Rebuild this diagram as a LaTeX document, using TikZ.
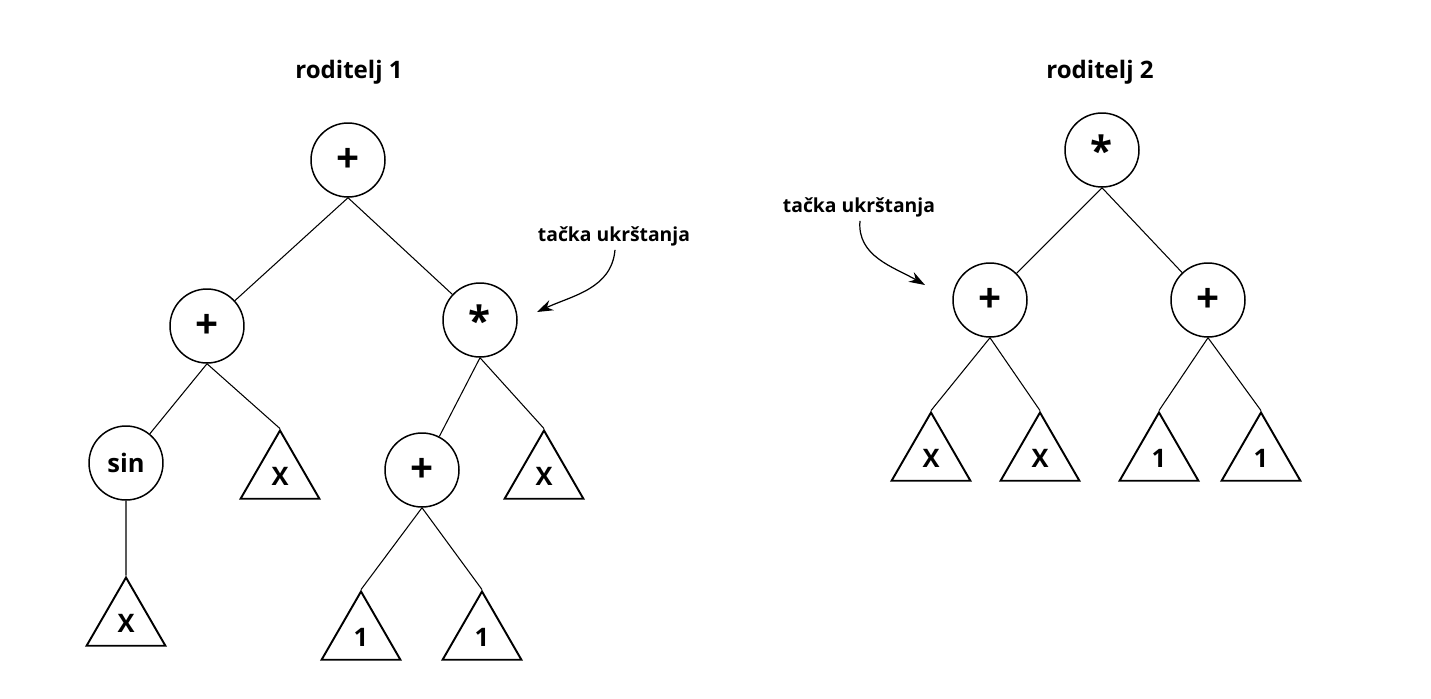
\documentclass[tikz,border=0pt]{standalone}
\usepackage{fontspec}
\setmainfont{Open Sans}
\usetikzlibrary{shapes.geometric, arrows.meta, positioning}

\begin{document}
\begin{tikzpicture}[
  on grid,
  opnode/.style={draw, circle, minimum size=1.48cm, inner sep=0pt, line width=0.85pt, font=\fontsize{23}{26}\selectfont\bfseries},
  funnode/.style={opnode, font=\fontsize{14.5}{16}\selectfont\bfseries},
  leafnode/.style={draw, regular polygon, regular polygon sides=3, minimum size=1.82cm, inner sep=0pt, line width=1.1pt, font=\fontsize{14.5}{16}\selectfont\bfseries},
  title/.style={font=\fontsize{13.7}{15}\selectfont\bfseries},
  note/.style={font=\fontsize{11}{12}\selectfont\bfseries, inner sep=1pt},
  link/.style={line width=0.6pt},
  pointer/.style={-{Stealth[length=3.2mm, width=2.2mm]}, line width=0.7pt}
]
\useasboundingbox (0,0) rectangle (28.62,-13.96);

% Parent 1
\node[title]    (T1)   at (6.98,-1.44) {roditelj 1};
\node[opnode]   (r1)   at (6.96,-3.20) {+};
\node[opnode]   (a)    [below left=3.32cm and 2.82cm of r1] {+};
\node[opnode]   (b)    [below right=3.2cm and 2.64cm of r1] {*};
\node[funnode]  (sin)  [below left=2.74cm and 1.62cm of a] {sin};
\node[leafnode] (tX1)  [below right=3.0cm and 1.46cm of a] {X};
\node[leafnode] (tX3)  [below=3.2cm of sin] {X};
\node[opnode]   (c)    [below left=3.0cm and 1.16cm of b] {+};
\node[leafnode] (tX2)  [below right=3.12cm and 1.28cm of b] {X};
\node[leafnode] (t1a)  [below left=3.34cm and 1.22cm of c] {1};
\node[leafnode] (t1b)  [below right=3.34cm and 1.20cm of c] {1};

% crossover point 1
\node[note]     (N1)   at (12.28,-4.72) {tačka ukrštanja};
\coordinate (cx1) at (10.74,-6.24);

% Parent 2
\node[title]    (T2)   at (22.0,-1.44) {roditelj 2};
\node[opnode]   (r2)   at (22.04,-3.00) {*};
\node[opnode]   (d)    [below left=3.0cm and 2.24cm of r2] {+};
\node[opnode]   (e)    [below right=3.0cm and 2.12cm of r2] {+};
\node[leafnode] (tXa)  [below left=3.16cm and 1.18cm of d] {X};
\node[leafnode] (tXb)  [below right=3.16cm and 1.0cm of d] {X};
\node[leafnode] (t1c)  [below left=3.16cm and 0.98cm of e] {1};
\node[leafnode] (t1d)  [below right=3.16cm and 1.06cm of e] {1};

% crossover point 2
\node[note]     (N2)   at (17.18,-4.14) {tačka ukrštanja};
\coordinate (cx2) at (18.5,-5.7);

% Links, parent 1
\draw[link] (r1.south) -- (a);
\draw[link] (r1.south) -- (b);
\draw[link] (a.south) -- (sin);
\draw[link] (a.south) -- (tX1.north);
\draw[link] (sin.south) -- (tX3.north);
\draw[link] (b.south) -- (c);
\draw[link] (b.south) -- (tX2.north);
\draw[link] (c.south) -- (t1a.north);
\draw[link] (c.south) -- (t1b.north);

% Links, parent 2
\draw[link] (r2.south) -- (d);
\draw[link] (r2.south) -- (e);
\draw[link] (d.south) -- (tXa.north);
\draw[link] (d.south) -- (tXb.north);
\draw[link] (e.south) -- (t1c.north);
\draw[link] (e.south) -- (t1d.north);

% Pointers
\draw[pointer] ([xshift=0.02cm, yshift=-0.04cm]N1.south) to[out=-95, in=25] (cx1);
\draw[pointer] ([xshift=0.02cm, yshift=-0.04cm]N2.south) to[out=-95, in=150] (cx2);
\end{tikzpicture}
\end{document}
